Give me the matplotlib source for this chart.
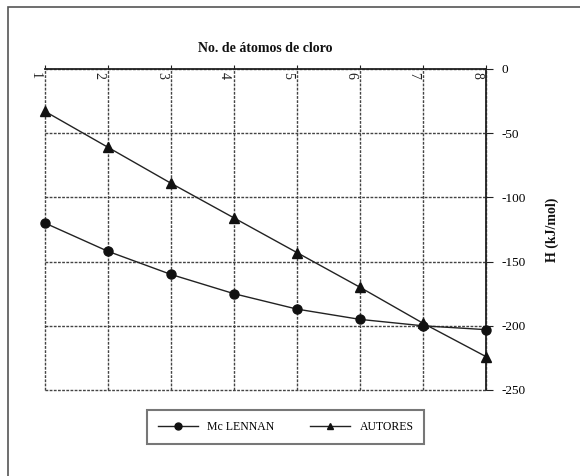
import matplotlib
matplotlib.use("Agg")
import matplotlib.pyplot as plt
from matplotlib.lines import Line2D
from matplotlib.patches import Rectangle

atoms = [1, 2, 3, 4, 5, 6, 7, 8]
mclennan = [-120, -142, -160, -175, -187, -195, -200, -203]
autores = [-33, -61, -89, -116, -143, -170, -198, -224]
x_ticks = [1, 2, 3, 4, 5, 6, 7, 8]
y_ticks = [0, -50, -100, -150, -200, -250]

plt.rcParams['font.family'] = ['Liberation Serif', 'DejaVu Serif']
plt.rcParams['axes.unicode_minus'] = False

W, H = 580, 476
fig = plt.figure(figsize=(W / 100, H / 100), dpi=100)

# outer frame (only top/left visible in reference)
fig.patches.append(Rectangle((8 / W, -0.1), 1.2, (1 - 7 / H) + 0.1, transform=fig.transFigure,
                             fill=False, edgecolor='#555555', linewidth=1.2))

ax = fig.add_axes([45 / W, 1 - 390 / H, (486 - 45) / W, (390 - 69) / H])
ax.set_xlim(1, 8)
ax.set_ylim(-250, 0)

ax.plot(atoms, mclennan, color='#222222', lw=1.0, marker='o', ms=6.5, mfc='#111111', mec='#111111',
        clip_on=False, zorder=5)
ax.plot(atoms, autores, color='#222222', lw=1.0, marker='^', ms=6.5, mfc='#111111', mec='#111111',
        clip_on=False, zorder=5)

for s in ['left', 'bottom']:
    ax.spines[s].set_visible(False)
for s in ['top', 'right']:
    ax.spines[s].set_color('#222222')
    ax.spines[s].set_linewidth(1.3)

ax.set_xticks(x_ticks)
ax.set_yticks(y_ticks)
ax.grid(True, color='#444444', linestyle=(0, (2, 1)), linewidth=1.0)
for gl in ax.get_xgridlines() + ax.get_ygridlines():
    gl.set_clip_on(False)
ax.tick_params(axis='x', bottom=False, top=True, labelbottom=False, labeltop=False,
               direction='out', length=3, color='#222222')
ax.tick_params(axis='y', left=False, right=True, labelleft=False, labelright=True,
               direction='out', length=5, color='#222222', labelsize=9.5, pad=6)

for xv in x_ticks:
    ax.annotate(str(xv), xy=(xv, 0), xycoords='data', xytext=(-2, -2), textcoords='offset points',
                rotation=-90, ha='right', va='top', fontsize=10, color='#222222')

ax.set_title('No. de átomos de cloro', fontsize=10, fontweight='bold', pad=12, color='#111111')
ax.yaxis.set_label_position('right')
ax.set_ylabel('H (kJ/mol)', fontsize=10, fontweight='bold', labelpad=14, color='#111111')

handles = [Line2D([], [], color='#222222', lw=1.0, marker='o', ms=5, mfc='#111111', mec='#111111'),
           Line2D([], [], color='#222222', lw=1.0, marker='^', ms=5, mfc='#111111', mec='#111111')]
leg = fig.legend(handles, ['Mc LENNAN', 'AUTORES'], ncol=2,
                 loc='center', bbox_to_anchor=((144 + 427) / 2 / W, 1 - 427 / H),
                 frameon=True, fancybox=False, fontsize=8.5, handlelength=3.4,
                 columnspacing=3.0, handletextpad=0.8, borderpad=0.9)
leg.get_frame().set_edgecolor('#555555')
leg.get_frame().set_linewidth(1.5)

fig.savefig('out.png', dpi=100)
